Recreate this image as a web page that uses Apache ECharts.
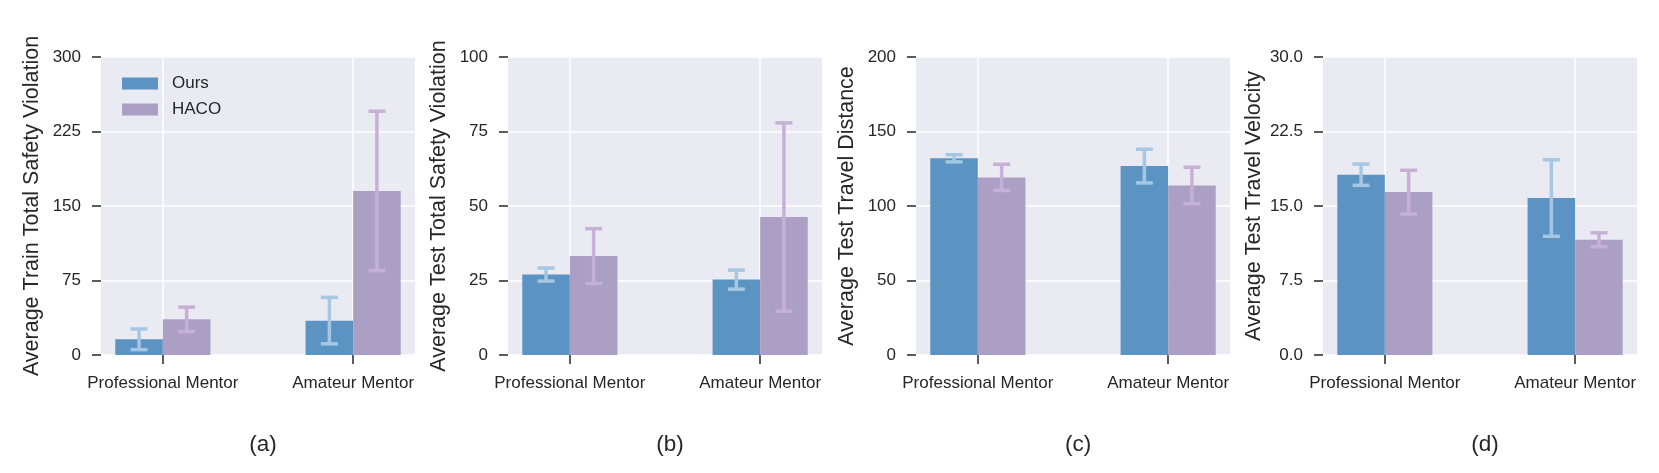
<!DOCTYPE html>
<html>
<head>
<meta charset="utf-8">
<script src="https://cdn.jsdelivr.net/npm/echarts@6/dist/echarts.min.js"></script>
<style>html,body{margin:0;padding:0;background:#fff}#c{width:1659px;height:473px}</style>
</head>
<body>
<div id="c"></div>
<script>
const categories = ['Professional Mentor', 'Amateur Mentor'];
const seriesNames = ['Ours', 'HACO'];
const panelLabels = ['(a)', '(b)', '(c)', '(d)'];
const yTitles = ['Average Train Total Safety Violation', 'Average Test Total Safety Violation', 'Average Test Travel Distance', 'Average Test Travel Velocity'];
const yMax = [300, 100, 200, 30];
const yStep = [75, 25, 50, 7.5];
const yDecimals = [0, 0, 0, 1];

const trainViolOurs = [15.8, 34.6];
const trainViolOursErr = [10.4, 23.4];
const trainViolHaco = [35.9, 165.2];
const trainViolHacoErr = [12.3, 80.2];

const testViolOurs = [27.0, 25.3];
const testViolOursErr = [2.2, 3.2];
const testViolHaco = [33.2, 46.3];
const testViolHacoErr = [9.2, 31.6];

const distOurs = [132.0, 126.8];
const distOursErr = [2.4, 11.3];
const distHaco = [119.2, 113.8];
const distHacoErr = [8.8, 12.2];

const velOurs = [18.15, 15.8];
const velOursErr = [1.07, 3.85];
const velHaco = [16.4, 11.6];
const velHacoErr = [2.2, 0.7];

const panels = [
  [trainViolOurs, trainViolOursErr, trainViolHaco, trainViolHacoErr],
  [testViolOurs, testViolOursErr, testViolHaco, testViolHacoErr],
  [distOurs, distOursErr, distHaco, distHacoErr],
  [velOurs, velOursErr, velHaco, velHacoErr]
];

const FONT = 'Liberation Sans, Arial, sans-serif';
const TXT = '#262626';
const barColors = ['#5b93c3', '#aba0c4'];
const errColors = ['#a5c8e2', '#c7b0d5'];
const BW = 0.25;
const gridLefts = [101, 508, 916, 1323];
const gridW = 314;
const gridTop = 57;
const gridH = 298;

function barRender(offset) {
  return function (params, api) {
    const x = api.value(0), v = api.value(1);
    const p0 = api.coord([x + offset, v]);
    const p1 = api.coord([x + offset + BW, 0]);
    return {
      type: 'rect',
      shape: { x: p0[0], y: p0[1], width: p1[0] - p0[0], height: p1[1] - p0[1] },
      style: { fill: api.visual('color') }
    };
  };
}
function errRender(offset, color) {
  return function (params, api) {
    const x = api.value(0), v = api.value(1), e = api.value(2);
    const cx = x + offset + BW / 2;
    const top = api.coord([cx, v + e]);
    const bot = api.coord([cx, v - e]);
    const cap = 8.5;
    const st = { stroke: color, lineWidth: 3.5 };
    return {
      type: 'group',
      children: [
        { type: 'line', shape: { x1: top[0], y1: top[1], x2: bot[0], y2: bot[1] }, style: st },
        { type: 'line', shape: { x1: top[0] - cap, y1: top[1], x2: top[0] + cap, y2: top[1] }, style: st },
        { type: 'line', shape: { x1: bot[0] - cap, y1: bot[1], x2: bot[0] + cap, y2: bot[1] }, style: st }
      ]
    };
  };
}

const grids = [], xAxes = [], yAxes = [], series = [], titles = [];
panels.forEach((p, i) => {
  grids.push({ left: gridLefts[i], width: gridW, top: gridTop, height: gridH, show: true, backgroundColor: '#eaeaf2', borderWidth: 0 });
  xAxes.push({
    type: 'value', gridIndex: i, min: -0.325, max: 1.325, position: 'bottom',
    axisLine: { show: false, onZero: false },
    axisTick: { show: true, length: 9, customValues: [0, 1], lineStyle: { color: TXT, width: 1.5 } },
    axisLabel: { customValues: [0, 1], margin: 20, color: TXT, fontFamily: FONT, fontSize: 17, formatter: v => categories[Math.round(v)] },
    splitLine: { show: true, lineStyle: { color: '#ffffff', width: 1.5 } }
  });
  yAxes.push({
    type: 'value', gridIndex: i, min: 0, max: yMax[i], interval: yStep[i], position: 'left',
    name: yTitles[i], nameLocation: 'middle', nameGap: 58, nameRotate: 90,
    nameTextStyle: { color: TXT, fontFamily: FONT, fontSize: 21.5 },
    axisLine: { show: false, onZero: false },
    axisTick: { show: true, length: 9, lineStyle: { color: TXT, width: 1.5 } },
    axisLabel: { margin: 20, color: TXT, fontFamily: FONT, fontSize: 17, formatter: v => v.toFixed(yDecimals[i]) },
    splitLine: { show: true, lineStyle: { color: '#ffffff', width: 1.5 } }
  });
  const [ov, oe, hv, he] = p;
  const oData = categories.map((c, k) => [k, ov[k], oe[k]]);
  const hData = categories.map((c, k) => [k, hv[k], he[k]]);
  series.push({ type: 'custom', name: seriesNames[0], xAxisIndex: i, yAxisIndex: i, data: oData, encode: { x: 0, y: 1 }, itemStyle: { color: barColors[0] }, renderItem: barRender(-BW), z: 2 });
  series.push({ type: 'custom', name: seriesNames[1], xAxisIndex: i, yAxisIndex: i, data: hData, encode: { x: 0, y: 1 }, itemStyle: { color: barColors[1] }, renderItem: barRender(0), z: 2 });
  series.push({ type: 'custom', name: 'err0_' + i, xAxisIndex: i, yAxisIndex: i, data: oData, encode: { x: 0, y: 1 }, renderItem: errRender(-BW, errColors[0]), z: 3 });
  series.push({ type: 'custom', name: 'err1_' + i, xAxisIndex: i, yAxisIndex: i, data: hData, encode: { x: 0, y: 1 }, renderItem: errRender(0, errColors[1]), z: 3 });
  titles.push({ text: panelLabels[i], left: gridLefts[i] + gridW / 2, top: 428, textAlign: 'center', textStyle: { color: TXT, fontFamily: FONT, fontSize: 22.5, fontWeight: 'normal' } });
});

const chart = echarts.init(document.getElementById('c'), null, { renderer: 'canvas' });
chart.setOption({
  animation: false,
  backgroundColor: '#ffffff',
  title: titles,
  grid: grids,
  xAxis: xAxes,
  yAxis: yAxes,
  legend: {
    data: seriesNames, orient: 'vertical', left: 117, top: 70,
    icon: 'rect', itemWidth: 36, itemHeight: 12, itemGap: 9,
    textStyle: { color: TXT, fontFamily: FONT, fontSize: 17, padding: [0, 0, 0, 9] }
  },
  series: series
});
</script>
</body>
</html>
